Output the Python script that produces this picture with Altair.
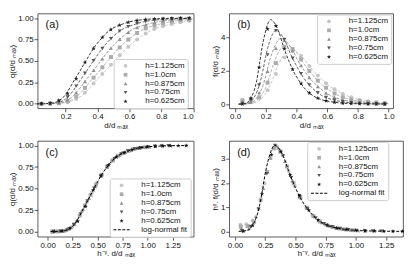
import altair as alt
import pandas as pd

FONT = "Liberation Sans"
H = ["h=1.125cm", "h=1.0cm", "h=0.875cm", "h=0.75cm", "h=0.625cm"]
FIT_LABEL = "log-normal fit"
COLORS = ["#c6c6c6", "#ababab", "#8f8f8f", "#555555", "#1c1c1c"]
STAR = "M0,-1.2L0.28,-0.38L1.14,-0.37L0.45,0.14L0.7,0.97L0,0.47L-0.7,0.97L-0.45,0.14L-1.14,-0.37L-0.28,-0.38Z"
SHAPES = ["circle", "square", "triangle-up", "triangle-down", STAR]
DASH_SYMBOL = ("M-4.4,-0.3H-2.8V0.3H-4.4Z M-2.0,-0.3H-0.4V0.3H-2.0Z "
               "M0.4,-0.3H2.0V0.3H0.4Z M2.8,-0.3H4.4V0.3H2.8Z")

# d/d_max sampling of panels (a), (b)
X_GRID = [0.048, 0.103, 0.157, 0.212, 0.266, 0.321, 0.375, 0.430, 0.484, 0.539,
          0.593, 0.648, 0.702, 0.757, 0.811, 0.866, 0.920, 0.975]

# (a) cumulative q(d/d_max)
Q_1125 = [0.0, 0.002, 0.006, 0.018, 0.055, 0.13, 0.237, 0.347, 0.455, 0.567, 0.666, 0.75, 0.82, 0.873, 0.906, 0.931, 0.952, 0.968]
Q_100 = [0.0, 0.002, 0.008, 0.03, 0.086, 0.186, 0.305, 0.426, 0.545, 0.658, 0.75, 0.827, 0.881, 0.914, 0.939, 0.96, 0.973, 0.981]
Q_0875 = [0.0, 0.003, 0.012, 0.047, 0.13, 0.261, 0.391, 0.525, 0.65, 0.754, 0.835, 0.89, 0.923, 0.949, 0.969, 0.979, 0.986, 0.991]
Q_075 = [0.0, 0.004, 0.019, 0.08, 0.206, 0.356, 0.503, 0.646, 0.76, 0.848, 0.901, 0.936, 0.961, 0.976, 0.985, 0.991, 0.995, 0.997]
Q_0625 = [0.001, 0.006, 0.04, 0.12, 0.29, 0.483, 0.646, 0.775, 0.867, 0.918, 0.952, 0.973, 0.985, 0.991, 0.995, 0.998, 0.999, 1.0]

# (b) density f(d/d_max)
F_1125 = [0.26, 0.27, 0.41, 0.84, 1.81, 2.79, 3.22, 2.89, 2.29, 1.71, 1.25, 0.89, 0.61, 0.41, 0.27, 0.18, 0.13, 0.087]
F_100 = [0.2, 0.22, 0.4, 1.29, 2.46, 3.43, 3.3, 2.68, 1.99, 1.41, 0.98, 0.64, 0.41, 0.27, 0.18, 0.12, 0.08, 0.05]
F_0875 = [0.13, 0.13, 0.69, 1.97, 3.35, 3.82, 3.2, 2.32, 1.6, 1.06, 0.67, 0.41, 0.25, 0.17, 0.10, 0.063, 0.041, 0.028]
F_075 = [0.04, 0.24, 1.15, 2.95, 4.4, 3.87, 2.75, 1.82, 1.15, 0.68, 0.40, 0.24, 0.14, 0.083, 0.048, 0.031, 0.02, 0.012]
F_0625 = [0.0, 0.36, 2.2, 4.5, 4.69, 3.31, 2.09, 1.24, 0.67, 0.36, 0.2, 0.11, 0.057, 0.036, 0.02, 0.011, 0.007, 0.003]

# (c), (d) rescaled abscissa h^-gamma d/d_max
U_1125 = [0.044, 0.094, 0.144, 0.194, 0.244, 0.294, 0.344, 0.394, 0.443, 0.494, 0.543, 0.594, 0.643, 0.693, 0.743, 0.793, 0.843, 0.893]
U_100 = [0.048, 0.103, 0.157, 0.212, 0.266, 0.321, 0.375, 0.430, 0.484, 0.539, 0.593, 0.648, 0.702, 0.757, 0.811, 0.866, 0.920, 0.975]
U_0875 = [0.053, 0.114, 0.173, 0.234, 0.294, 0.355, 0.414, 0.475, 0.535, 0.596, 0.655, 0.716, 0.776, 0.836, 0.896, 0.957, 1.017, 1.077]
U_075 = [0.059, 0.128, 0.195, 0.263, 0.330, 0.398, 0.465, 0.533, 0.600, 0.668, 0.735, 0.803, 0.870, 0.938, 1.005, 1.073, 1.140, 1.208]
U_0625 = [0.068, 0.146, 0.223, 0.301, 0.378, 0.456, 0.533, 0.611, 0.687, 0.765, 0.842, 0.920, 0.997, 1.075, 1.152, 1.230, 1.306, 1.385]

# (d) rescaled density h^gamma f
G_1125 = [0.28, 0.3, 0.45, 0.92, 1.98, 3.05, 3.52, 3.15, 2.5, 1.87, 1.37, 0.97, 0.67, 0.45, 0.30, 0.2, 0.14, 0.095]
G_100 = [0.2, 0.22, 0.4, 1.29, 2.46, 3.43, 3.3, 2.68, 1.99, 1.41, 0.98, 0.64, 0.41, 0.27, 0.18, 0.12, 0.08, 0.05]
G_0875 = [0.12, 0.12, 0.62, 1.78, 3.03, 3.46, 2.9, 2.1, 1.45, 0.96, 0.61, 0.37, 0.23, 0.15, 0.09, 0.057, 0.037, 0.025]
G_075 = [0.03, 0.19, 0.93, 2.38, 3.55, 3.12, 2.22, 1.47, 0.93, 0.55, 0.32, 0.19, 0.11, 0.067, 0.039, 0.025, 0.016, 0.01]
G_0625 = [0.0, 0.25, 1.55, 3.17, 3.3, 2.33, 1.47, 0.87, 0.47, 0.25, 0.14, 0.08, 0.04, 0.025, 0.014, 0.008, 0.005, 0.002]

# log-normal fit curves (rescaled, panels c and d)
FIT_U = [0.03, 0.1, 0.15, 0.2, 0.225, 0.25, 0.275, 0.3, 0.33, 0.36, 0.4, 0.45, 0.5, 0.55, 0.6, 0.65, 0.7, 0.75, 0.8, 0.9, 1.0, 1.1, 1.2, 1.3, 1.4]
FIT_Q = [0.0, 0.002, 0.006, 0.02, 0.035, 0.06, 0.095, 0.14, 0.205, 0.275, 0.36, 0.47, 0.58, 0.68, 0.76, 0.83, 0.88, 0.91, 0.935, 0.97, 0.985, 0.993, 0.997, 0.999, 1.0]
FIT_F = [0.0, 0.04, 0.28, 1.0, 1.65, 2.4, 2.95, 3.35, 3.56, 3.45, 3.1, 2.4, 1.8, 1.3, 0.93, 0.63, 0.42, 0.28, 0.19, 0.09, 0.04, 0.02, 0.01, 0.005, 0.002]

# fit curves for each h (panels a and b)
CX_1125 = [0.033, 0.109, 0.164, 0.218, 0.246, 0.273, 0.300, 0.328, 0.360, 0.393, 0.437, 0.491, 0.546, 0.600, 0.655, 0.710, 0.764, 0.819, 0.873, 0.983]
CX_100 = [0.03, 0.1, 0.15, 0.2, 0.225, 0.25, 0.275, 0.3, 0.33, 0.36, 0.4, 0.45, 0.5, 0.55, 0.6, 0.65, 0.7, 0.75, 0.8, 0.9, 1.0]
CX_0875 = [0.027, 0.090, 0.136, 0.181, 0.204, 0.226, 0.249, 0.271, 0.299, 0.326, 0.362, 0.407, 0.452, 0.498, 0.543, 0.588, 0.633, 0.679, 0.724, 0.814, 0.905, 0.995]
CX_075 = [0.024, 0.081, 0.121, 0.161, 0.182, 0.202, 0.222, 0.242, 0.266, 0.291, 0.323, 0.363, 0.404, 0.444, 0.484, 0.525, 0.565, 0.605, 0.646, 0.726, 0.807, 0.888, 0.969]
CX_0625 = [0.021, 0.070, 0.106, 0.141, 0.158, 0.176, 0.194, 0.211, 0.232, 0.254, 0.282, 0.317, 0.352, 0.387, 0.423, 0.458, 0.493, 0.528, 0.563, 0.634, 0.704, 0.775, 0.845, 0.915, 0.986]
CF_1125 = [0.0, 0.037, 0.26, 0.92, 1.51, 2.2, 2.7, 3.07, 3.26, 3.16, 2.84, 2.2, 1.65, 1.19, 0.85, 0.58, 0.38, 0.26, 0.17, 0.082]
CF_100 = [0.0, 0.04, 0.28, 1.0, 1.65, 2.4, 2.95, 3.35, 3.56, 3.45, 3.1, 2.4, 1.8, 1.3, 0.93, 0.63, 0.42, 0.28, 0.19, 0.09, 0.04]
CF_0875 = [0.0, 0.044, 0.31, 1.1, 1.82, 2.65, 3.26, 3.7, 3.93, 3.81, 3.43, 2.65, 1.99, 1.44, 1.03, 0.7, 0.46, 0.31, 0.21, 0.1, 0.044, 0.022]
CF_075 = [0.0, 0.05, 0.35, 1.24, 2.04, 2.97, 3.66, 4.15, 4.41, 4.27, 3.84, 2.97, 2.23, 1.61, 1.15, 0.78, 0.52, 0.35, 0.24, 0.11, 0.05, 0.025, 0.012]
CF_0625 = [0.0, 0.057, 0.4, 1.42, 2.34, 3.41, 4.19, 4.76, 5.06, 4.9, 4.4, 3.41, 2.56, 1.85, 1.32, 0.89, 0.6, 0.4, 0.27, 0.13, 0.057, 0.028, 0.014, 0.007, 0.003]

Q = [Q_1125, Q_100, Q_0875, Q_075, Q_0625]
F = [F_1125, F_100, F_0875, F_075, F_0625]
U = [U_1125, U_100, U_0875, U_075, U_0625]
G = [G_1125, G_100, G_0875, G_075, G_0625]
CX = [CX_1125, CX_100, CX_0875, CX_075, CX_0625]
CF = [CF_1125, CF_100, CF_0875, CF_075, CF_0625]

pts_rows = []
for i, h in enumerate(H):
    for k, x in enumerate(X_GRID):
        pts_rows.append({"h": h, "x": x, "q": Q[i][k], "f": F[i][k], "u": U[i][k], "g": G[i][k]})
pts = pd.DataFrame(pts_rows)

curve_rows = []
for i, h in enumerate(H):
    for k, x in enumerate(CX[i]):
        curve_rows.append({"h": h, "x": x, "q": FIT_Q[k], "f": CF[i][k]})
curves = pd.DataFrame(curve_rows)

fit = pd.DataFrame({"u": FIT_U, "q": FIT_Q, "g": FIT_F})

PT_SIZE = 16


def legend(lx, ly):
    return alt.Legend(title=None, orient="none", legendX=lx, legendY=ly,
                      fillColor="white", strokeColor="#cccccc", cornerRadius=2,
                      padding=3, labelFont=FONT, labelFontSize=8, labelColor="#111",
                      symbolSize=14, symbolOffset=5, labelOffset=16, rowPadding=1,
                      labelLimit=200)


def panel(label, xcol, ycol, xdom, ydom, xvals, yvals, xfmt, yfmt, xtitle, ytitle,
          width, height, lx, ly, with_fit, fity=None, curve_y=None):
    xs = alt.Scale(domain=xdom, nice=False, zero=False)
    ys = alt.Scale(domain=ydom, nice=False, zero=False)
    xa = alt.Axis(values=xvals, format=xfmt, title=xtitle)
    ya = alt.Axis(values=yvals, format=yfmt, title=ytitle)
    lg = legend(lx, ly)
    if with_fit:
        dom = H + [FIT_LABEL]
        cs = alt.Scale(domain=dom, range=COLORS + ["#000000"])
        ss = alt.Scale(domain=dom, range=SHAPES + [DASH_SYMBOL])
        points = alt.Chart(pts).mark_point(filled=True, size=PT_SIZE, opacity=1).encode(
            x=alt.X(f"{xcol}:Q", scale=xs, axis=xa),
            y=alt.Y(f"{ycol}:Q", scale=ys, axis=ya),
            color=alt.Color("h:N", scale=cs, legend=lg),
            shape=alt.Shape("h:N", scale=ss, legend=lg),
        )
        lines = alt.Chart(fit).mark_line(color="#000000", strokeWidth=1, strokeDash=[3, 1.6],
                                         interpolate="monotone").encode(
            x=alt.X("u:Q", scale=xs, axis=xa),
            y=alt.Y(f"{fity}:Q", scale=ys, axis=ya),
        )
        layers = [points, lines]
    else:
        cs = alt.Scale(domain=H, range=COLORS)
        ss = alt.Scale(domain=H, range=SHAPES)
        layers = []
        for i, h in enumerate(H):
            layers.append(
                alt.Chart(curves).transform_filter(alt.datum.h == h).mark_line(
                    color=COLORS[i], strokeWidth=0.9, strokeDash=[3, 1.6], interpolate="monotone"
                ).encode(
                    x=alt.X("x:Q", scale=xs, axis=xa),
                    y=alt.Y(f"{curve_y}:Q", scale=ys, axis=ya),
                )
            )
        points = alt.Chart(pts).mark_point(filled=True, size=PT_SIZE, opacity=1).encode(
            x=alt.X(f"{xcol}:Q", scale=xs, axis=xa),
            y=alt.Y(f"{ycol}:Q", scale=ys, axis=ya),
            color=alt.Color("h:N", scale=cs, legend=lg),
            shape=alt.Shape("h:N", scale=ss, legend=lg),
        )
        layers.append(points)
    text = alt.Chart(alt.Data(values=[{"t": label}])).mark_text(
        align="left", baseline="middle", font=FONT, fontSize=11, color="#111"
    ).encode(x=alt.value(8), y=alt.value(12), text="t:N")
    return alt.layer(*layers, text).properties(width=width, height=height)


XT = "d/d ₘₐₓ"
XT2 = "h⁻ᵞ. d/d ₘₐₓ"

a = panel("(a)", "x", "q", [0.024, 1.003], [-0.053, 1.054], [0.2, 0.4, 0.6, 0.8, 1.0],
          [0, 0.25, 0.5, 0.75, 1.0], ".1f", ".2f", XT, "q(d/d ₘₐₓ)", 158, 96, 77, 46,
          False, curve_y="q")
b = panel("(b)", "x", "f", [-0.038, 1.03], [-0.25, 5.43], [0, 0.2, 0.4, 0.6, 0.8, 1.0],
          [0, 2, 4], ".1f", "d", XT, "f(d/d ₘₐₓ)", 166, 96, 89, 1,
          False, curve_y="f")
c = panel("(c)", "u", "q", [-0.1, 1.46], [-0.06, 1.054], [0, 0.25, 0.5, 0.75, 1.0, 1.25],
          [0, 0.25, 0.5, 0.75, 1.0], ".2f", ".2f", XT2, "q(d/d ₘₐₓ)", 158, 97, 73, 38,
          True, fity="q")
d = panel("(d)", "u", "g", [-0.048, 1.39], [-0.22, 3.74], [0, 0.25, 0.5, 0.75, 1.0, 1.25],
          [0, 1, 2, 3], ".2f", "d", XT2, "hᵞ. f(d/d ₘₐₓ)", 176, 97, 79, 1,
          True, fity="g")

res = dict(x="independent", y="independent", color="independent", shape="independent")
leg = dict(color="independent", shape="independent")
top = alt.hconcat(a, b, spacing=36, bounds="flush").resolve_scale(**res).resolve_legend(**leg)
bottom = alt.hconcat(c, d, spacing=36, bounds="flush").resolve_scale(**res).resolve_legend(**leg)

chart = alt.vconcat(top, bottom, spacing=10).resolve_scale(**res).resolve_legend(**leg).properties(
    padding={"left": 0, "top": 3, "right": 0, "bottom": 0}, background="white"
).configure_view(
    stroke="#333333", strokeWidth=0.8
).configure_axis(
    labelFont=FONT, labelFontSize=8, titleFont=FONT, titleFontSize=8,
    titleFontWeight="normal", labelColor="#111", titleColor="#111",
    tickSize=3.5, tickColor="#333", tickWidth=0.8, domain=False, grid=False,
    labelPadding=1, titlePadding=1
)

chart.save("out.html", embed_options={"renderer": "svg", "actions": False})
